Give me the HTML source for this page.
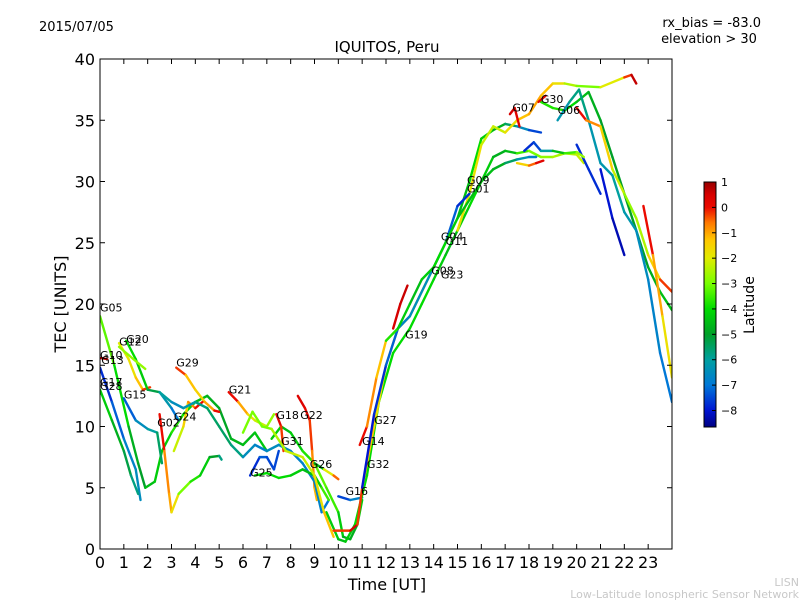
<!DOCTYPE html>
<html><head><meta charset="utf-8"><style>
body{margin:0;background:#fff;}
svg{display:block;font-family:"DejaVu Sans","Liberation Sans",sans-serif;}
</style></head><body>
<svg id="chart" width="800" height="600" viewBox="0 0 800 600" xmlns="http://www.w3.org/2000/svg">
<defs>
<linearGradient id="cbg" x1="0" y1="1" x2="0" y2="0"></linearGradient>
<clipPath id="clip"><rect x="100" y="59" width="572" height="490"/></clipPath>
</defs>
<text x="39" y="31" font-size="13">2015/07/05</text>
<text x="761" y="27" font-size="13" text-anchor="end">rx_bias = -83.0</text>
<text x="709" y="43" font-size="13" text-anchor="middle">elevation &gt; 30</text>
<text x="387" y="52" font-size="15" text-anchor="middle">IQUITOS, Peru</text>
<g id="tracks" clip-path="url(#clip)"></g>
<g id="labels"></g>
<rect x="100" y="59" width="572" height="490" fill="none" stroke="#000" stroke-width="1"/>
<g id="xaxis"></g>
<g id="yaxis"></g>
<text x="387" y="590" font-size="16" text-anchor="middle">Time [UT]</text>
<text transform="translate(66,304) rotate(-90)" font-size="16" text-anchor="middle">TEC [UNITS]</text>
<g id="cbar"></g>
<text transform="translate(754,305) rotate(-90)" font-size="14" text-anchor="middle">Latitude</text>
<text x="799" y="586" font-size="11" fill="#c8c8c8" text-anchor="end">LISN</text>
<text x="799" y="598" font-size="11" fill="#c8c8c8" text-anchor="end">Low-Latitude Ionospheric Sensor Network</text>
</svg>
<script>
const xTicks=[0,1,2,3,4,5,6,7,8,9,10,11,12,13,14,15,16,17,18,19,20,21,22,23];
const yTicks=[0,5,10,15,20,25,30,35,40];
const cbTicks=[1,0,-1,-2,-3,-4,-5,-6,-7,-8];
// tracks: [hour, TEC, latitude]
const trG05=[[0,19,-3],[0.6,15,-3.5],[1.2,10,-4.5],[1.6,7,-5],[1.9,5,-5],[2.3,5.5,-4],[2.6,8,-4.5],[3,9.5,-4],[3.5,11,-3.5],[4,12,-4.5],[4.5,12.5,-4.5],[5,11.5,-5],[5.5,9,-4.8],[6,8.5,-4.5],[6.5,9.5,-4.5],[7,8,-4.2]];
const trG12=[[0.8,16.8,-2],[1.2,15.5,-2],[1.5,14,-1.5],[1.8,13,-1],[2.1,13.2,0.5]];
const trG20=[[1.1,17,-4],[1.5,15.5,-4],[2,13,-4.5],[2.5,12.8,-6],[3,11.5,-6.5],[3.3,10.5,-7.5]];
const trG20b=[[0.8,16.5,-2.5],[1.4,15.5,-3],[1.9,14.7,-2.5]];
const trG10=[[0,15.6,0.5],[0.3,15.5,0.7]];
const trG17=[[0,14.8,-8],[0.5,12,-7.5],[1,9,-7],[1.5,6.5,-6.5],[1.7,4,-6.5]];
const trG28=[[0,13,-4],[0.5,10.5,-4.5],[1,8,-5],[1.3,6,-5.5],[1.6,4.5,-6]];
const trG15=[[1,12.3,-7.5],[1.5,10.5,-7],[2,9.8,-6],[2.4,9.5,-6],[2.6,7,-5]];
const trG02=[[2.5,11,0.5],[2.7,8,-0.5],[2.9,4.5,-1],[3,3,-1],[3.3,4.5,-2.5],[3.8,5.5,-3.5],[4.2,6,-4],[4.6,7.5,-4.5],[5,7.6,-5.5],[5.1,7.3,-6]];
const trG29=[[3.2,14.8,0.5],[3.6,14.2,-1],[4,13,-1.5],[4.4,12,-1.5],[4.8,11.3,-0.5],[5,11.2,0.5]];
const trG24=[[3.1,8,-2.5],[3.5,10,-2],[3.7,12,-1],[4,11.5,-0.5],[4.3,12,0.5]];
const trG21=[[5.4,12.8,0.5],[5.8,12,-0.5],[6.2,11,-1.5],[6.5,10.5,-2],[7,10,-2.5],[7.3,11,-3]];
const trG25=[[6.3,6,-8],[6.7,7.5,-7.5],[7,7.5,-7],[7.3,6.5,-8],[7.5,8,-7]];
const trG18=[[7.2,9,-4],[7.6,10,-4.5],[8,9.5,-4.5],[8.5,8,-4],[9,7,-3.5],[9.5,5,-3],[10,3,-4],[10.2,1,-4.5],[10.5,0.8,-5],[10.8,2,-4.5],[11,4,-4]];
const trG18b=[[7.4,11,0.5],[7.6,10,0],[7.7,8,-0.5]];
const trG22=[[8.3,12.5,0.5],[8.6,11.5,0.2],[8.8,10.5,0],[8.9,8,-0.5],[9,5,-1],[9.1,4,-1.3]];
const trG26=[[9,7,-6],[9.4,6.5,-3],[9.8,6,-1],[10,5.7,0]];
const trG16=[[10,4.3,-8],[10.5,4,-7],[11,4.2,-6.5]];
const trG14=[[10.9,8.5,0.5],[11.2,10,-0.5],[11.6,14,-1],[12,17,-1.5]];
const trL1=[[9.5,3,-4],[10,0.8,-4.5],[10.3,0.6,-4.5],[10.7,2,-4],[11.2,6,-4],[11.7,12,-4],[12.3,16,-4],[13,18,-4],[13.5,20,-4],[14,22,-4],[14.5,24,-4.5],[15,26,-4.5],[15.5,28,-4],[16,30,-4],[16.5,32,-4.5],[17,32.5,-5],[17.5,32.3,-4],[18,32.5,-3],[18.5,32,-3],[19,32,-2.5],[19.5,32.3,-2.5],[20,32.2,-2.5],[20.3,31.5,-2]];
const trL2=[[15,27,-5],[15.5,30,-4],[16,33.5,-4],[16.5,34.2,-4.5],[17,34.7,-5],[17.5,34.5,-6],[18,34.2,-7],[18.5,34,-8]];
const trL3=[[15,26,-2],[15.5,29,-1.5],[16,33,-2],[16.5,34.5,-2.5],[17,34,-2],[17.5,35,-1.5],[18,35.5,-1],[18.5,37,-1],[19,38,-1.5],[19.5,38,-2],[20,37.8,-3],[21,37.7,-3],[22,38.5,-1],[22.3,38.7,0.5],[22.5,38,0.8]];
const trL4=[[18.5,36.5,-3.5],[19,36,-4],[19.5,35.8,-3.5],[20,36.5,-4.5],[20.5,37.3,-4.5],[21,35,-5],[21.5,32,-5],[22,29,-5],[22.5,26,-5],[23,23,-5],[23.5,21,-4.5],[24,19.5,-4.5]];
const trL5=[[19.2,35,-6.5],[19.7,36.5,-6],[20.1,37.5,-5.5],[20.5,35,-6],[21,31.5,-6.5],[21.5,30.5,-6],[22,27.5,-6],[22.5,26,-6.5],[23,22,-6.5],[23.5,16,-7],[24,12,-7]];
const trL6=[[20,36,0.5],[20.4,35,-0.5],[21,34.5,-1],[21.5,31,-2],[22,29,-2.5],[22.5,27,-3],[23,24,-2],[23.5,22,-1],[24,21,0.5]];
const trL7=[[22.8,28,0.5],[23.2,24,-0.5],[23.6,19,-1.5],[24,14,-2]];
const trL8=[[20,33,-8],[20.5,31,-7.5],[21,29,-8]];
const trL8b=[[21,31,-8],[21.5,27,-8],[22,24,-8.5]];
const trL9=[[9.8,1.5,-1],[10.5,1.5,0.5],[10.8,2,0.5],[11,5,-1],[11.5,10,-1.5],[12,15,-2],[12.5,18,-2],[13,19,-2],[14,23,-2],[14.5,25,-2],[15,27,-2]];
const trL10=[[11,5,-8],[11.5,11,-8],[12,15,-7.5],[12.5,18,-7],[13,19,-6.5],[14,23,-6.5],[14.5,25,-7],[15,28,-7.5],[15.5,29,-8]];
const trL11=[[12.3,18,0.5],[12.6,20,0.5],[12.9,21.5,0.7]];
const trL12=[[12,17,-3.5],[12.5,18,-4],[13,20,-4.5],[13.5,22,-4.5],[14,23,-4],[14.5,25,-4],[15,27,-4.5],[15.5,28.5,-4.5],[16,30,-4.5],[16.5,31,-4.5],[17,31.5,-5],[17.5,31.8,-6],[18,32,-6.5],[18.3,32,-7]];
const trL13=[[17.8,32.5,-7.5],[18.2,33.2,-8],[18.5,32.5,-7],[19,32.5,-5],[19.5,32.3,-4],[20,32.4,-3],[20.3,32,-2.5]];
const trG07=[[17.2,35.5,0.5],[17.4,36,0.5],[17.6,34.5,0]];
const trG30=[[18.4,36.5,0.5],[18.7,37,0]];
const trL15=[[17.5,31.5,-2],[18,31.3,-1],[18.3,31.5,0],[18.6,31.7,0.5]];
const trL16=[[2.5,12.8,-5.5],[3,12,-6.5],[3.5,11.5,-6.5],[4,12,-6],[4.5,11.5,-5.5],[5,10,-5.5],[5.5,8.5,-5.5],[6,7.5,-6],[6.5,8.5,-7],[7,8,-6.5],[7.5,8.5,-6.5],[8,8,-6.5],[8.5,7,-7],[9,5.5,-6.5],[9.3,3,-7],[9.6,4,-7]];
const trL17=[[6.5,6,-4],[7,6.2,-4],[7.5,5.8,-4],[8,6,-4],[8.5,6.5,-4.5],[9,6,-4.5],[9.3,5,-4],[9.6,4,-3]];
const trL18=[[6,9.5,-3],[6.4,11.2,-3],[6.8,10,-3],[7.2,9.8,-3],[7.8,8,-2],[8.5,7.5,-2.5],[9,6,-2],[9.4,3,-1.5],[9.8,1,-1]];
const tracks=[trG05,trG12,trG20,trG20b,trG10,trG17,trG28,trG15,trG02,trG29,trG24,trG21,trG25,trG18,trG18b,trG22,trG26,trG16,trG14,trL1,trL2,trL3,trL4,trL5,trL6,trL7,trL8,trL8b,trL9,trL10,trL11,trL12,trL13,trG07,trG30,trL15,trL16,trL17,trL18];
const satNames=["G05","G12","G20","G10","G13","G17","G28","G15","G29","G21","G24","G02","G18","G22","G31","G26","G25","G16","G14","G32","G27","G19","G08","G23","G04","G11","G09","G01","G07","G30","G06"];
const satHours=[0,0.8,1.1,0,0.05,0,0,1,3.2,5.4,3.1,2.4,7.4,8.4,7.6,8.8,6.3,10.3,11,11.2,11.5,12.8,13.9,14.3,14.3,14.5,15.4,15.4,17.3,18.5,19.2];
const satTec=[19.4,16.6,16.8,15.5,15.1,13.3,13,12.3,14.9,12.7,10.5,10,10.6,10.6,8.5,6.6,5.9,4.4,8.5,6.6,10.2,17.2,22.4,22.1,25.2,24.8,29.8,29.1,35.7,36.4,35.5];

const NS="http://www.w3.org/2000/svg";
const X0=100,X1=672,Y0=549,Y1=59;
function xs(h){return X0+(X1-X0)*h/24;}
function ys(v){return Y0-(Y0-Y1)*v/40;}
const VMAX=1,VMIN=-8.65;
const stops=[[1,[150,0,0]],[0.5,[215,0,0]],[0,[235,10,0]],[-0.6,[255,120,0]],[-1.3,[255,200,0]],[-2,[225,235,0]],[-3,[120,255,0]],[-4,[0,220,0]],[-5,[0,160,40]],[-6,[0,160,160]],[-7,[0,120,215]],[-8,[0,20,210]],[-8.65,[0,0,130]]];
function cmap(l){l=Math.max(VMIN,Math.min(VMAX,l));for(let i=0;i<stops.length-1;i++){const a=stops[i],b=stops[i+1];if(l<=a[0]&&l>=b[0]){const t=(a[0]-l)/(a[0]-b[0]);const c=a[1].map((v,k)=>Math.round(v+(b[1][k]-v)*t));return `rgb(${c[0]},${c[1]},${c[2]})`;}}return "rgb(0,0,130)";}
function mk(tag,attrs,parent){const e=document.createElementNS(NS,tag);for(const k in attrs)e.setAttribute(k,attrs[k]);parent.appendChild(e);return e;}

const gT=document.getElementById('tracks');
tracks.forEach((tr,ti)=>{
  const g=mk('g',{},gT);
  
  
  for(let i=0;i<tr.length-1;i++){
    const a=tr[i],b=tr[i+1];
    const ln=mk('line',{x1:xs(a[0]),y1:ys(a[1]),x2:xs(b[0]),y2:ys(b[1]),stroke:cmap((a[2]+b[2])/2),'stroke-width':2.4,'stroke-linecap':'round'},g);
    
    
  }
});
const gL=document.getElementById('labels');
satNames.forEach((n,i)=>{
  const t=mk('text',{x:xs(satHours[i]),y:ys(satTec[i]),'font-size':11},gL);
  t.textContent=n;
  
  
});
const gX=document.getElementById('xaxis');
xTicks.forEach(h=>{
  const x=xs(h);
  const t1=mk('line',{x1:x,y1:Y0,x2:x,y2:Y0-5,stroke:'#000'},gX);
  
  
  const t2=mk('line',{x1:x,y1:Y1,x2:x,y2:Y1+5,stroke:'#000'},gX);
  
  
  const tx=mk('text',{x:x,y:568,'font-size':16,'text-anchor':'middle'},gX);
  tx.textContent=h;
  
  
});
const gY=document.getElementById('yaxis');
yTicks.forEach(v=>{
  const y=ys(v);
  const t1=mk('line',{x1:X0,y1:y,x2:X0+5,y2:y,stroke:'#000'},gY);
  
  
  const t2=mk('line',{x1:X1,y1:y,x2:X1-5,y2:y,stroke:'#000'},gY);
  
  
  const tx=mk('text',{x:95,y:y+6,'font-size':16,'text-anchor':'end'},gY);
  tx.textContent=v;
  
  
});
// colorbar
const CB_T=182,CB_B=427,CB_X=704,CB_W=12;
function cy(l){return CB_T+(CB_B-CB_T)*(VMAX-l)/(VMAX-VMIN);}
const grad=document.getElementById('cbg');
stops.slice().reverse().forEach(s=>{const c=s[1];mk('stop',{offset:((s[0]-VMIN)/(VMAX-VMIN)).toFixed(4),'stop-color':`rgb(${c[0]},${c[1]},${c[2]})`},grad);});
const gC=document.getElementById('cbar');
const r=mk('rect',{x:CB_X,y:CB_T,width:CB_W,height:CB_B-CB_T,fill:'url(#cbg)',stroke:'#000','stroke-width':1},gC);


cbTicks.forEach(l=>{
  const y=cy(l);
  const tk=mk('line',{x1:CB_X+CB_W-4,y1:y,x2:CB_X+CB_W,y2:y,stroke:'#000'},gC);
  
  
  const tx=mk('text',{x:CB_X+CB_W+5,y:y+4,'font-size':11},gC);
  tx.textContent=l<0?'\u2212'+(-l):String(l);
  
  
});
</script>
</body></html>
